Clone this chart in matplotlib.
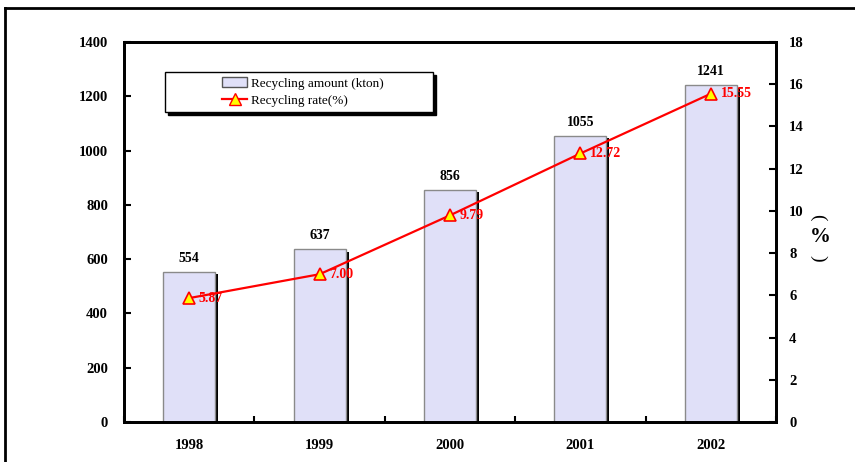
import matplotlib.pyplot as plt
from matplotlib.patches import Rectangle
from matplotlib.lines import Line2D

plt.rcParams['font.family'] = ['Liberation Serif', 'DejaVu Serif']

years = ["1998", "1999", "2000", "2001", "2002"]
amount = [554, 637, 856, 1055, 1241]
rate = [5.87, 7.00, 9.79, 12.72, 15.55]
rate_labels = ["5.87", "7.00", "9.79", "12.72", "15.55"]

fig = plt.figure(figsize=(8.55, 4.62), dpi=100)
ax = fig.add_axes([124/855, 1-422/462, 652/855, 380/462])
ax2 = ax.twinx()

x = list(range(len(years)))
w = 0.4
# schatten der balken
ax.bar([i + 0.022 for i in x], [a - 10 for a in amount], w, color="black", zorder=1)
ax.bar(x, amount, w, color="#e0e0f8", edgecolor="#8a8a8a", linewidth=1, zorder=2)
for i, a in zip(x, amount):
    ax.annotate(str(a), (i, a), xytext=(0, 5), textcoords="offset points",
                ha="center", va="bottom", fontsize=10, fontweight="bold")

ax.set_xlim(-0.5, 4.5)
ax.set_ylim(0, 1400)
ax.set_yticks(range(0, 1401, 200))
ax.set_xticks(x)
ax.set_xticklabels(years, fontsize=10.5, fontweight="bold")
ax.set_xticks([i - 0.5 for i in range(6)], minor=True)
ax.tick_params(axis="x", which="major", length=0, pad=12)
ax.tick_params(axis="x", which="minor", direction="in", length=4, width=1.5)
ax.tick_params(axis="y", direction="in", length=5, width=1.5, pad=11.5, labelsize=10.5)
for t in ax.get_yticklabels():
    t.set_fontweight("bold")

ax2.plot(x, rate, color="red", lw=1.6, marker="^", markersize=8,
         markerfacecolor="yellow", markeredgecolor="red", markeredgewidth=1.2, zorder=5)
for i, r, s in zip(x, rate, rate_labels):
    ax2.annotate(s, (i, r), xytext=(7, 0), textcoords="offset points",
                 ha="left", va="center", fontsize=10, fontweight="bold", color="red")
ax2.set_ylim(0, 18)
ax2.set_yticks(range(0, 19, 2))
ax2.tick_params(axis="y", direction="in", length=5, width=1.5, pad=9.5, labelsize=10.5)
for t in ax2.get_yticklabels():
    t.set_fontweight("bold")

for a in (ax, ax2):
    for sp in a.spines.values():
        sp.set_linewidth(2)

# rechte achsenbeschriftung (%)
fig.text(818/855, 1-217/462, "(", rotation=-90, ha="center", va="center", fontsize=14)
fig.text(820/855, 1-237/462, "%", ha="center", va="center", fontsize=15, fontweight="bold")
fig.text(818/855, 1-258/462, ")", rotation=-90, ha="center", va="center", fontsize=14)

# legende mit schattenrahmen
x0, x1 = (165-124)/652, (433-124)/652
y0, y1 = (422-112)/380, (422-72)/380
sx, sy = 3/652, 3/380
ax2.add_patch(Rectangle((x0 + sx, y0 - sy), x1 - x0, y1 - y0, transform=ax2.transAxes,
                        facecolor="black", edgecolor="black", zorder=6, clip_on=False))
ax2.add_patch(Rectangle((x0, y0), x1 - x0, y1 - y0, transform=ax2.transAxes,
                        facecolor="white", edgecolor="black", lw=1, zorder=7, clip_on=False))
handles = [Rectangle((0, 0), 1, 1, facecolor="#e0e0f8", edgecolor="#555555"),
           Line2D([], [], color="red", lw=1.6, marker="^", markersize=8,
                  markerfacecolor="yellow", markeredgecolor="red")]
leg = ax2.legend(handles, ["Recycling amount (kton)", "Recycling rate(%)"],
                 loc="center left", bbox_to_anchor=((222-124)/652, (y0 + y1) / 2),
                 frameon=False, fontsize=9.5, handlelength=1.9, handletextpad=0.3,
                 labelspacing=0.35, borderpad=0, borderaxespad=0)
leg.set_zorder(8)

# aeusserer rahmen
fig.add_artist(Line2D([5/855, 5/855], [0, 1-8/462], color="black", lw=2))
fig.add_artist(Line2D([5/855, 1], [1-8/462, 1-8/462], color="black", lw=2))

fig.savefig("out.png", dpi=100)
